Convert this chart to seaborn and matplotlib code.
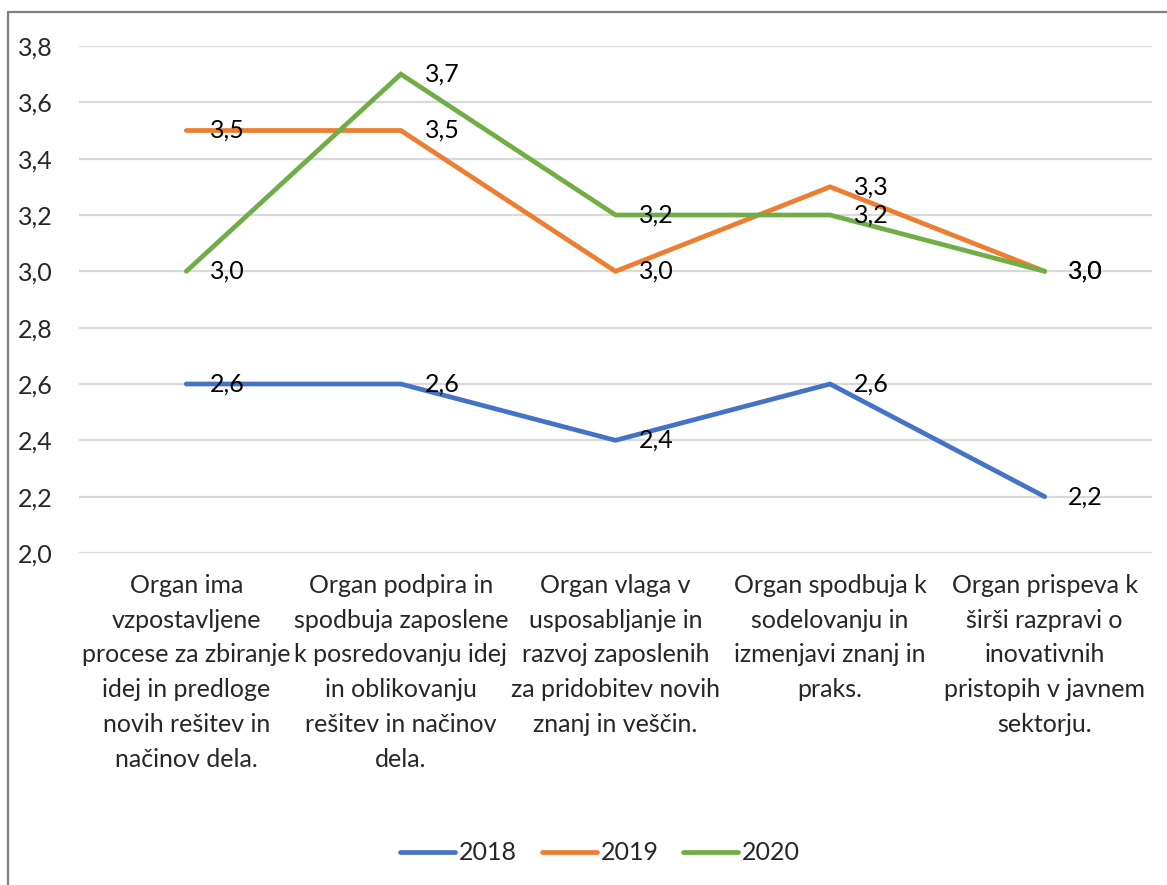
import matplotlib
matplotlib.use("Agg")
import matplotlib.pyplot as plt
from matplotlib.lines import Line2D
import seaborn as sns
import pandas as pd

categories = [
    "Organ ima\nvzpostavljene\nprocese za zbiranje\nidej in predloge\nnovih rešitev in\nnačinov dela.",
    "Organ podpira in\nspodbuja zaposlene\nk posredovanju idej\nin oblikovanju\nrešitev in načinov\ndela.",
    "Organ vlaga v\nusposabljanje in\nrazvoj zaposlenih\nza pridobitev novih\nznanj in veščin.",
    "Organ spodbuja k\nsodelovanju in\nizmenjavi znanj in\npraks.",
    "Organ prispeva k\nširši razpravi o\ninovativnih\npristopih v javnem\nsektorju.",
]
years = ["2018", "2019", "2020"]
values_2018 = [2.6, 2.6, 2.4, 2.6, 2.2]
values_2019 = [3.5, 3.5, 3.0, 3.3, 3.0]
values_2020 = [3.0, 3.7, 3.2, 3.2, 3.0]
y_ticks = [2.0, 2.2, 2.4, 2.6, 2.8, 3.0, 3.2, 3.4, 3.6, 3.8]

colors = {"2018": "#4472C4", "2019": "#ED7D31", "2020": "#70AD47"}

rows = []
for year, vals in zip(years, [values_2018, values_2019, values_2020]):
    for i, v in enumerate(vals):
        rows.append({"x": i, "value": v, "year": year})
df = pd.DataFrame(rows)

sns.set_theme(style="white")
plt.rcParams["font.family"] = ["Lato", "DejaVu Sans"]
FS = 18
LW = 3.4

fig = plt.figure(figsize=(11.67, 8.85), dpi=100)
ax = fig.add_axes([79 / 1167, 1 - 553 / 885, (1152 - 79) / 1167, (553 - 46) / 885])

sns.lineplot(data=df, x="x", y="value", hue="year", palette=colors,
             linewidth=LW, ax=ax, legend=False, sort=False)
for line in ax.lines:
    line.set_solid_capstyle("round")
    line.set_solid_joinstyle("miter")

# value labels to the right of each point
for year, vals in zip(years, [values_2018, values_2019, values_2020]):
    for i, v in enumerate(vals):
        ax.annotate(f"{v:.1f}".replace(".", ","), xy=(i, v), xytext=(17, 0),
                    textcoords="offset points", ha="left", va="center",
                    fontsize=FS, color="#000000", zorder=5)

ax.set_xlim(-0.5, 4.5)
ax.set_ylim(2.0, 3.8)
ax.set_yticks(y_ticks)
ax.set_yticklabels([f"{t:.1f}".replace(".", ",") for t in y_ticks], fontsize=FS)
ax.set_xticks(range(len(categories)))
ax.set_xticklabels(categories, fontsize=FS, linespacing=1.62, va="top")
ax.tick_params(axis="x", length=0, pad=15)
ax.tick_params(axis="y", length=0, pad=19)
ax.yaxis.grid(True, color="#D9D9D9", linewidth=1.6)
ax.set_axisbelow(True)
for s in ax.spines.values():
    s.set_visible(False)
ax.set_xlabel("")
ax.set_ylabel("")

handles = [Line2D([0], [0], color=colors[y], linewidth=LW, solid_capstyle="round") for y in years]
fig.legend(handles, years, loc="center", bbox_to_anchor=(600 / 1167, 1 - 853 / 885),
           ncol=3, frameon=False, fontsize=FS, handlelength=2.2, handletextpad=0.15,
           columnspacing=1.0)

# outer chart border (left and top edges)
fig.add_artist(Line2D([7.5 / 1167, 7.5 / 1167], [0, 1 - 11.5 / 885], transform=fig.transFigure,
                      color="#808080", linewidth=1.6))
fig.add_artist(Line2D([7.5 / 1167, 1], [1 - 11.5 / 885, 1 - 11.5 / 885], transform=fig.transFigure,
                      color="#808080", linewidth=1.6))

fig.savefig("out.png", dpi=100, facecolor="white")
